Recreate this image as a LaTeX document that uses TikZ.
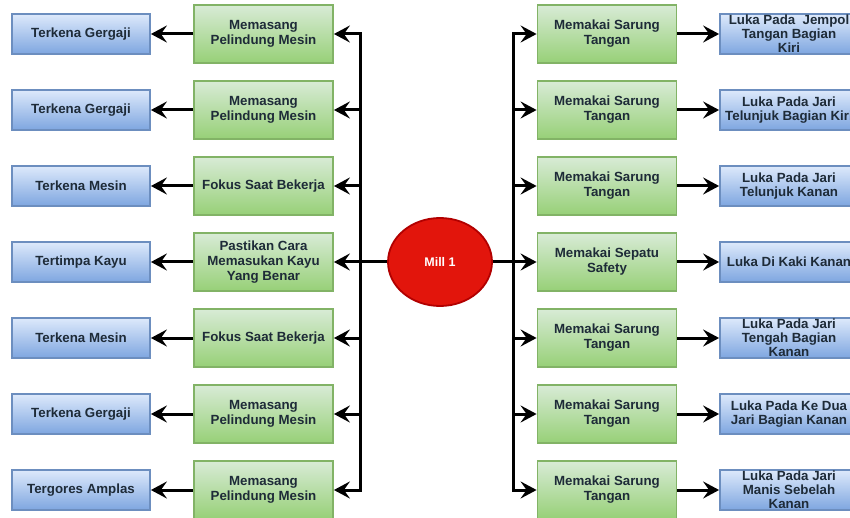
\documentclass[tikz,border=0pt]{standalone}
\usepackage{fontspec}
\setmainfont{Liberation Sans}
\usetikzlibrary{arrows.meta,shapes.geometric}
\definecolor{txt}{HTML}{1E2B38}
\definecolor{bluetop}{HTML}{DDE9FB}
\definecolor{bluebot}{HTML}{7EA6E0}
\definecolor{blueline}{HTML}{6C8EBF}
\definecolor{greentop}{HTML}{D8EBD6}
\definecolor{greenbot}{HTML}{97D077}
\definecolor{greenline}{HTML}{82B366}
\definecolor{millred}{HTML}{E2150C}
\definecolor{millline}{HTML}{B20000}
\begin{document}
\begin{tikzpicture}[x=1pt,y=-1pt,
  bluebox/.style={draw=blueline, line width=1.8pt, top color=bluetop, bottom color=bluebot,
    minimum width=138pt, minimum height=40pt, inner sep=0pt},
  greenbox/.style={draw=greenline, line width=1.8pt, top color=greentop, bottom color=greenbot,
    minimum width=139pt, minimum height=58pt, inner sep=0pt},
  lbl/.style={font=\bfseries\fontsize{13.3}{15}\selectfont, text=txt, align=center, inner sep=0pt},
  rlbl/.style={font=\bfseries\fontsize{13.3}{14}\selectfont, text=txt, align=center, inner sep=0pt},
  arr/.style={line width=3pt, -{Stealth[length=16pt,width=17pt,inset=6pt]}},
  arrboth/.style={line width=3pt, line join=miter, {Stealth[length=16pt,width=17pt,inset=6pt]}-{Stealth[length=16pt,width=17pt,inset=6pt]}}
]
\useasboundingbox (0,0) rectangle (850,518);
\clip (0,0) rectangle (850,518);
\fill[white] (0,0) rectangle (850,518);

% left column
\foreach \i/\y/\b/\g in {
  1/34/{Terkena Gergaji}/{Memasang\\Pelindung Mesin},
  2/110/{Terkena Gergaji}/{Memasang\\Pelindung Mesin},
  3/186/{Terkena Mesin}/{Fokus Saat Bekerja},
  4/262/{Tertimpa Kayu}/{Pastikan Cara\\Memasukan Kayu\\Yang Benar},
  5/338/{Terkena Mesin}/{Fokus Saat Bekerja},
  6/414/{Terkena Gergaji}/{Memasang\\Pelindung Mesin},
  7/490/{Tergores Amplas}/{Memasang\\Pelindung Mesin}}{
  \node[bluebox] (bL\i) at (81,\y) {};
  \node[lbl] (tbL\i) at (bL\i.center) {\b};
  \node[greenbox] (gL\i) at (263.5,\y) {};
  \node[lbl] (tgL\i) at (gL\i.center) {\g};
  \coordinate (tL\i) at (360,\y);
  \draw[arr] (gL\i.west) -- (bL\i.east);
}

% right column
\foreach \i/\y/\b/\g in {
  1/34/{Luka Pada\ \ Jempol\\Tangan Bagian\\Kiri}/{Memakai Sarung\\Tangan},
  2/110/{Luka Pada Jari\\Telunjuk Bagian Kiri}/{Memakai Sarung\\Tangan},
  3/186/{Luka Pada Jari\\Telunjuk Kanan}/{Memakai Sarung\\Tangan},
  4/262/{Luka Di Kaki Kanan}/{Memakai Sepatu\\Safety},
  5/338/{Luka Pada Jari\\Tengah Bagian\\Kanan}/{Memakai Sarung\\Tangan},
  6/414/{Luka Pada Ke Dua\\Jari Bagian Kanan}/{Memakai Sarung\\Tangan},
  7/490/{Luka Pada Jari\\Manis Sebelah\\Kanan}/{Memakai Sarung\\Tangan}}{
  \node[bluebox] (bR\i) at (789,\y) {};
  \node[rlbl] (tbR\i) at (bR\i.center) {\b};
  \node[greenbox] (gR\i) at (607,\y) {};
  \node[lbl] (tgR\i) at (gR\i.center) {\g};
  \coordinate (tR\i) at (513,\y);
  \draw[arr] (gR\i.east) -- (bR\i.west);
}

% center
\node[ellipse, draw=millline, fill=millred, line width=1.8pt,
  minimum width=104pt, minimum height=88pt, inner sep=0pt] (mill) at (440,262) {};
\node[font=\bfseries\fontsize{12.5}{14}\selectfont, text=white] (milltxt) at (mill.center) {Mill 1};

% trunks
\draw[arrboth] (gL1.east) -- (tL1) -- (tL7) -- (gL7.east);
\foreach \i in {2,3,5,6}{\draw[arr] (tL\i) -- (gL\i.east);}
\draw[arr] (mill.west) -- (gL4.east);

\draw[arrboth] (gR1.west) -- (tR1) -- (tR7) -- (gR7.west);
\foreach \i in {2,3,5,6}{\draw[arr] (tR\i) -- (gR\i.west);}
\draw[arr] (mill.east) -- (gR4.west);
\end{tikzpicture}
\end{document}
